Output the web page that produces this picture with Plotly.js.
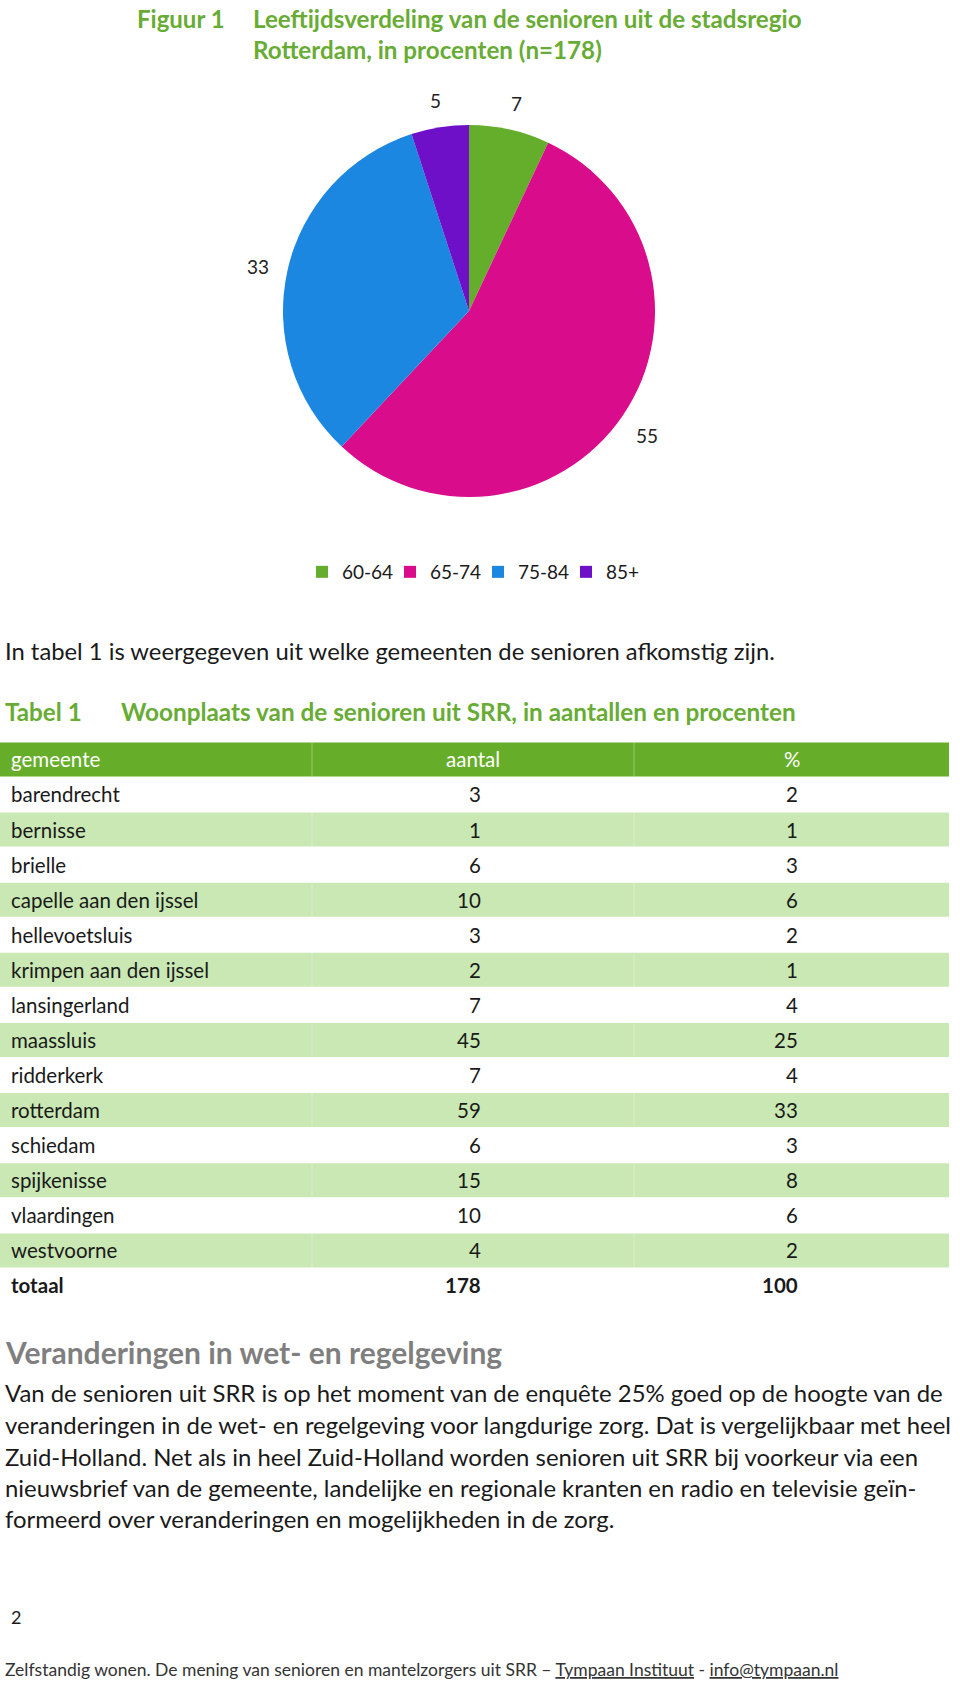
<!DOCTYPE html>
<html>
<head>
<meta charset="utf-8">
<script src="https://cdn.plot.ly/plotly-3.0.1.min.js"></script>
<style>html,body{margin:0;padding:0;background:#fff;}#page{width:960px;height:1681px;}</style>
</head>
<body>
<div id="page"></div>
<script>
// ---- data ----
const ageGroups = ['60-64', '65-74', '75-84', '85+'];
const agePct = [7, 55, 33, 5];
const ageColors = ['#64AE2C', '#D90D8B', '#1B87E1', '#6F10C9'];

const gemeenten = ['barendrecht', 'bernisse', 'brielle', 'capelle aan den ijssel', 'hellevoetsluis',
  'krimpen aan den ijssel', 'lansingerland', 'maassluis', 'ridderkerk', 'rotterdam', 'schiedam',
  'spijkenisse', 'vlaardingen', 'westvoorne'];
const aantal = [3, 1, 6, 10, 3, 2, 7, 45, 7, 59, 6, 15, 10, 4];
const procent = [2, 1, 3, 6, 2, 1, 4, 25, 4, 33, 3, 8, 6, 2];
const totaalAantal = 178;
const totaalProcent = 100;
const tableHeader = ['gemeente', 'aantal', '%'];

const figTitle1 = 'Leeftijdsverdeling van de senioren uit de stadsregio';
const figTitle2 = 'Rotterdam, in procenten (n=178)';
const introText = 'In tabel 1 is weergegeven uit welke gemeenten de senioren afkomstig zijn.';
const tableTitle = 'Woonplaats van de senioren uit SRR, in aantallen en procenten';
const sectionTitle = 'Veranderingen in wet- en regelgeving';
const paragraph = [
  'Van de senioren uit SRR is op het moment van de enquête 25% goed op de hoogte van de',
  'veranderingen in de wet- en regelgeving voor langdurige zorg. Dat is vergelijkbaar met heel',
  'Zuid-Holland. Net als in heel Zuid-Holland worden senioren uit SRR bij voorkeur via een',
  'nieuwsbrief van de gemeente, landelijke en regionale kranten en radio en televisie geïn-',
  'formeerd over veranderingen en mogelijkheden in de zorg.'
];
const footer = 'Zelfstandig wonen. De mening van senioren en mantelzorgers uit SRR – <u>Tympaan Instituut</u> - <u>info@tympaan.nl</u>';

// ---- layout helpers ----
const W = 960, H = 1681;
const FONT = 'Lato, "Open Sans", sans-serif';
const GREEN = '#68AC35';
const px = x => x / W;
const py = y => 1 - y / H;
const annotations = [];
const shapes = [];
function txt(text, x, y, opts) {
  opts = opts || {};
  annotations.push({
    text: text, x: px(x), y: py(y), xref: 'paper', yref: 'paper', showarrow: false,
    xanchor: opts.anchor || 'left', yanchor: 'middle',
    font: {family: FONT, size: opts.size || 22, color: opts.color || '#1a1a1a', weight: opts.weight || 400}
  });
}

// headings
txt('Figuur 1', 135, 19, {size: 24, color: GREEN, weight: 700});
txt(figTitle1, 251, 19, {size: 24.2, color: GREEN, weight: 700});
txt(figTitle2, 251, 50, {size: 24.2, color: GREEN, weight: 700});

// pie geometry
const cx = 469, cy = 311, R = 186;
const total = agePct.reduce((a, b) => a + b, 0);
let cum = 0;
agePct.forEach(v => {
  const mid = (cum + v / 2) / total * 2 * Math.PI;
  cum += v;
  const rl = R * 1.16;
  txt(String(v), cx + rl * Math.sin(mid), cy - rl * Math.cos(mid) + 3, {size: 19, anchor: 'center', color: '#222'});
});

// intro
txt(introText, 3, 651, {size: 23.8});
txt('Tabel 1', 3, 711, {size: 24.2, color: GREEN, weight: 700});
txt(tableTitle, 119, 711, {size: 24.3, color: GREEN, weight: 700});

// table
const rowC0 = 759.4, rowH = 35.07, bandH = 34;
const tL = 0, tR = 949, col1 = 312, col2 = 634;
const xNum1 = 483, xNum2 = 800;
const TS = 20.5;
function band(i, color) {
  const c = rowC0 + rowH * i;
  shapes.push({type: 'rect', xref: 'paper', yref: 'paper', x0: px(tL), x1: px(tR),
    y0: py(c - bandH / 2), y1: py(c + bandH / 2), fillcolor: color, line: {width: 0}, layer: 'below'});
  [col1, col2].forEach(xc => {
    shapes.push({type: 'line', xref: 'paper', yref: 'paper', x0: px(xc), x1: px(xc),
      y0: py(c - bandH / 2), y1: py(c + bandH / 2), line: {width: 1, color: 'rgba(255,255,255,0.3)'}, layer: 'below'});
  });
}
band(0, '#66AE2A');
txt(tableHeader[0], 9, rowC0, {size: TS, color: '#ffffff'});
txt(tableHeader[1], 473, rowC0, {size: TS, color: '#ffffff', anchor: 'center'});
txt(tableHeader[2], 792, rowC0, {size: TS, color: '#ffffff', anchor: 'center'});
gemeenten.forEach((g, k) => {
  const i = k + 1;
  const c = rowC0 + rowH * i;
  if (i % 2 === 0) band(i, '#C9E8B3');
  txt(g, 9, c, {size: TS});
  txt(String(aantal[k]), xNum1, c, {size: TS, anchor: 'right'});
  txt(String(procent[k]), xNum2, c, {size: TS, anchor: 'right'});
});
const cT = rowC0 + rowH * (gemeenten.length + 1);
txt('<b>totaal</b>', 9, cT, {size: TS});
txt('<b>' + totaalAantal + '</b>', xNum1, cT, {size: TS, anchor: 'right'});
txt('<b>' + totaalProcent + '</b>', xNum2, cT, {size: TS, anchor: 'right'});

// section
txt('<b>' + sectionTitle + '</b>', 3, 1352, {size: 30, color: '#7F7F7F'});
const pY = [1392, 1424, 1456, 1487, 1518];
paragraph.forEach((line, k) => txt(line, 3, pY[k], {size: 23.9}));
txt('2', 9, 1617, {size: 18});
txt(footer, 3, 1669, {size: 17.5, color: '#333'});

const pie = {
  type: 'pie', labels: ageGroups, values: agePct, sort: false, direction: 'clockwise', rotation: 0,
  marker: {colors: ageColors, line: {width: 0}}, textinfo: 'none', hoverinfo: 'label+value',
  domain: {x: [px(cx - R), px(cx + R)], y: [py(cy + R), py(cy - R)]}
};

const layout = {
  width: W, height: H, margin: {l: 0, r: 0, t: 0, b: 0}, paper_bgcolor: '#fff',
  font: {family: FONT},
  showlegend: true,
  legend: {orientation: 'h', x: px(478), xanchor: 'center', y: py(572), yanchor: 'middle',
    font: {size: 19, color: '#1a1a1a', family: FONT}, itemwidth: 30, traceorder: 'normal',
    entrywidth: 43, entrywidthmode: 'pixels'},
  annotations: annotations, shapes: shapes
};
Plotly.newPlot('page', [pie], layout, {staticPlot: true});
</script>
</body>
</html>
